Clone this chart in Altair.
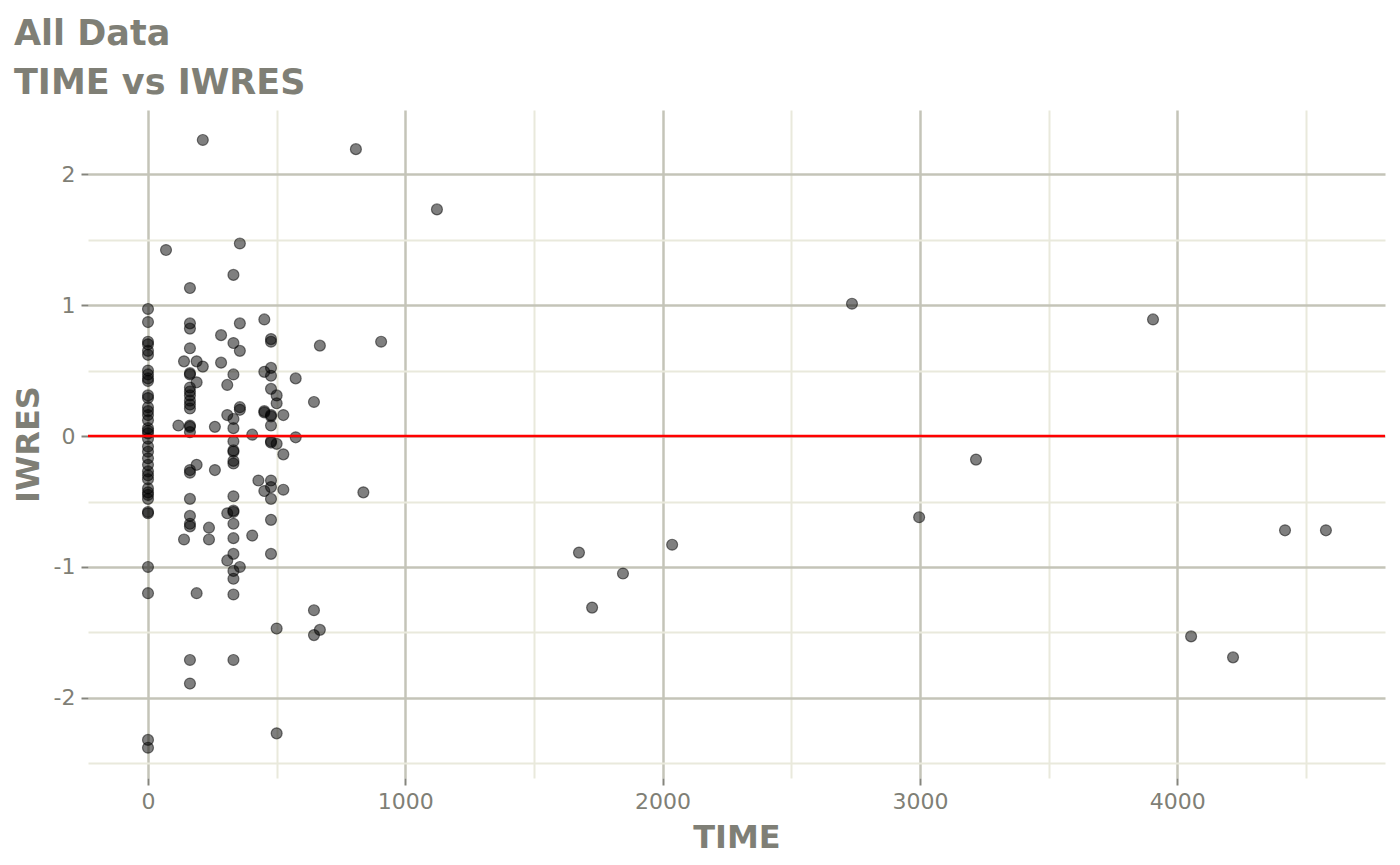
import altair as alt
import pandas as pd

# ---- data ----
TIME = (
    [0] * 37
    + [70, 118, 140, 140]
    + [163] * 23
    + [189] * 4
    + [213] * 2
    + [237] * 2
    + [260] * 2
    + [284] * 2
    + [308] * 4
    + [332] * 20
    + [357] * 6
    + [405] * 2
    + [429]
    + [452] * 5
    + [478] * 15
    + [500] * 5
    + [526] * 3
    + [574] * 2
    + [645] * 3
    + [668] * 2
    + [808, 837, 906, 1123, 1675, 1726, 1846, 2037, 2736, 2997, 3218, 3906, 4054, 4217, 4419, 4578]
)

IWRES = (
    [0.97, 0.87, 0.72, 0.70, 0.65, 0.62, 0.50, 0.47, 0.44, 0.42, 0.31, 0.29, 0.22,
     0.19, 0.16, 0.12, 0.06, 0.04, 0.02, -0.02, -0.08, -0.12, -0.17, -0.22, -0.27,
     -0.30, -0.33, -0.40, -0.43, -0.45, -0.48, -0.58, -0.59, -1.00, -1.20, -2.32, -2.38]
    + [1.42, 0.08, 0.57, -0.79]
    + [1.13, 0.86, 0.82, 0.67, 0.48, 0.47, 0.37, 0.34, 0.31, 0.27, 0.24, 0.21, 0.08,
       0.07, 0.03, -0.26, -0.28, -0.48, -0.61, -0.67, -0.69, -1.71, -1.89]
    + [0.57, 0.41, -0.22, -1.20]
    + [2.26, 0.53]
    + [-0.70, -0.79]
    + [0.07, -0.26]
    + [0.77, 0.56]
    + [0.39, 0.16, -0.59, -0.95]
    + [1.23, 0.71, 0.47, 0.13, 0.06, -0.04, -0.11, -0.12, -0.19, -0.21, -0.46, -0.57,
       -0.58, -0.67, -0.78, -0.90, -1.03, -1.09, -1.21, -1.71]
    + [1.47, 0.86, 0.65, 0.22, 0.20, -1.00]
    + [0.01, -0.76]
    + [-0.34]
    + [0.89, 0.49, 0.19, 0.18, -0.42]
    + [0.74, 0.72, 0.52, 0.46, 0.36, 0.16, 0.15, 0.08, -0.04, -0.05, -0.34, -0.39,
       -0.48, -0.64, -0.90]
    + [0.31, 0.25, -0.06, -1.47, -2.27]
    + [0.16, -0.14, -0.41]
    + [0.44, -0.01]
    + [0.26, -1.33, -1.52]
    + [0.69, -1.48]
    + [2.19, -0.43, 0.72, 1.73, -0.89, -1.31, -1.05, -0.83, 1.01, -0.62, -0.18, 0.89,
       -1.53, -1.69, -0.72, -0.72]
)

X_MAJOR = [0, 1000, 2000, 3000, 4000]
X_MINOR = [500, 1500, 2500, 3500, 4500]
Y_MAJOR = [-2, -1, 0, 1, 2]
Y_MINOR = [-2.5, -1.5, -0.5, 0.5, 1.5]
X_DOMAIN = [-233.2, 4807.6]
Y_DOMAIN = [-2.611, 2.489]
REF_LINE = [0]
TITLE = ["All Data", "TIME vs IWRES"]

df = pd.DataFrame({"TIME": TIME, "IWRES": IWRES})

FONT = "DejaVu Sans"
TXT = "#7f7f76"
MAJOR = "#c4c4b8"
MINOR = "#e9e9dc"

xscale = alt.Scale(domain=X_DOMAIN, nice=False, zero=False)
yscale = alt.Scale(domain=Y_DOMAIN, nice=False, zero=False)

minor = alt.Chart(df).mark_point(opacity=0).encode(
    x=alt.X("TIME:Q", scale=xscale,
            axis=alt.Axis(values=X_MINOR, orient="bottom", grid=True, gridColor=MINOR,
                          gridWidth=2, labels=False, ticks=False, domain=False, title=None)),
    y=alt.Y("IWRES:Q", scale=yscale,
            axis=alt.Axis(values=Y_MINOR, orient="left", grid=True, gridColor=MINOR,
                          gridWidth=2, labels=False, ticks=False, domain=False, title=None)),
)

points = alt.Chart(df).mark_point(
    filled=True, shape="circle", size=120, fill="black", fillOpacity=0.5,
    stroke="black", strokeOpacity=0.5, strokeWidth=1.2,
).encode(
    x=alt.X("TIME:Q", scale=xscale,
            axis=alt.Axis(values=X_MAJOR, orient="bottom", format="d", grid=True,
                          gridColor=MAJOR, gridWidth=2.5, domain=False,
                          ticks=True, tickColor="#85857d", tickSize=7, tickWidth=2,
                          labelFont=FONT, labelFontSize=22, labelColor=TXT, labelPadding=6,
                          title="TIME", titleFont=FONT, titleFontSize=32,
                          titleFontWeight="bold", titleColor=TXT, titlePadding=10)),
    y=alt.Y("IWRES:Q", scale=yscale,
            axis=alt.Axis(values=Y_MAJOR, orient="left", grid=True,
                          gridColor=MAJOR, gridWidth=2.5, domain=False,
                          labelExpr="'' + datum.value",
                          ticks=True, tickColor="#85857d", tickSize=7, tickWidth=2,
                          labelFont=FONT, labelFontSize=22, labelColor=TXT, labelPadding=6,
                          title="IWRES", titleFont=FONT, titleFontSize=32,
                          titleFontWeight="bold", titleColor=TXT, titlePadding=8)),
)

ref = alt.Chart(pd.DataFrame({"y": REF_LINE})).mark_rule(
    color="#ff0000", strokeWidth=2.5
).encode(y=alt.Y("y:Q", scale=yscale, axis=None))

chart = (
    alt.layer(minor, points, ref)
    .resolve_axis(x="independent", y="independent")
    .properties(
        width=1297,
        height=668,
        autosize=alt.AutoSizeParams(type="none"),
        padding={"left": 80, "top": 102, "right": 7, "bottom": 79},
        title=alt.TitleParams(
            text=TITLE, anchor="start", frame="group", dx=-74, offset=9,
            font=FONT, fontSize=35, fontWeight="bold", color=TXT, lineHeight=49,
        ),
    )
    .configure_view(stroke=None)
)

chart.save("out.html", embed_options={"renderer": "svg", "actions": False})
